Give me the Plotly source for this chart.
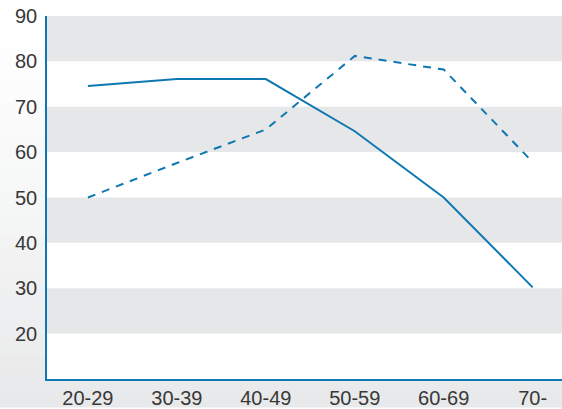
import plotly.graph_objects as go

categories = ["20-29", "30-39", "40-49", "50-59", "60-69", "70-"]
solid_values = [74.6, 76.1, 76.1, 64.6, 50.0, 30.2]
dashed_values = [50.0, 57.6, 65.0, 81.2, 78.2, 57.8]
y_ticks = [20, 30, 40, 50, 60, 70, 80, 90]

LINE = "#0f78b2"
BAND = "#e6e7e8"

fig = go.Figure()
fig.add_trace(go.Scatter(x=categories, y=solid_values, mode="lines",
                         line=dict(color=LINE, width=2), showlegend=False))
fig.add_trace(go.Scatter(x=categories, y=dashed_values, mode="lines",
                         line=dict(color=LINE, width=2, dash="8px,7px"), showlegend=False))

shapes = []
# paper background gradient (white at top to light gray at bottom)
n = 24
top_c = (255, 255, 255)
bot_c = (232, 233, 234)
H = 409.0


def to_paper(py):
    # plot area spans y px 16..381
    return (381 - py) / 365.0


for i in range(n):
    t = i / (n - 1)
    c = tuple(int(round(top_c[k] + (bot_c[k] - top_c[k]) * t ** 1.3)) for k in range(3))
    y0_px = H * i / n
    y1_px = H * (i + 1) / n
    shapes.append(dict(type="rect", xref="paper", yref="paper", layer="below",
                       x0=-0.2, x1=1.1, y0=to_paper(y1_px) - 0.002, y1=to_paper(y0_px) + 0.002,
                       fillcolor="rgb(%d,%d,%d)" % c, line=dict(width=0)))
# plot area white
shapes.append(dict(type="rect", xref="paper", yref="paper", layer="below",
                   x0=0, x1=1, y0=0, y1=1, fillcolor="white", line=dict(width=0)))
# gray bands
for lo in [80, 60, 40, 20]:
    shapes.append(dict(type="rect", xref="paper", yref="y", layer="below",
                       x0=0, x1=1, y0=lo, y1=lo + 10, fillcolor=BAND, line=dict(width=0)))

fig.update_layout(
    width=562, height=409,
    margin=dict(l=47, r=0, t=16, b=28),
    paper_bgcolor="white",
    plot_bgcolor="rgba(0,0,0,0)",
    shapes=shapes,
    font=dict(family="Liberation Sans, Arial, sans-serif", size=20, color="#383838"),
    xaxis=dict(type="category", range=[-0.46, 5.33], showgrid=False, zeroline=False,
               showline=True, linecolor=LINE, linewidth=1.5, ticks="outside",
               ticklen=0, tickcolor="rgba(0,0,0,0)",
               tickfont=dict(size=20, color="#383838")),
    yaxis=dict(range=[10, 90], tickvals=y_ticks, showgrid=False, zeroline=False,
               showline=True, linecolor=LINE, linewidth=1.5, ticks="outside",
               ticklen=4, tickcolor="rgba(0,0,0,0)",
               tickfont=dict(size=20, color="#383838")),
)

fig.write_html("out.html", config={"displayModeBar": False},
               post_script="document.body.style.margin='0';document.body.style.padding='0';")
